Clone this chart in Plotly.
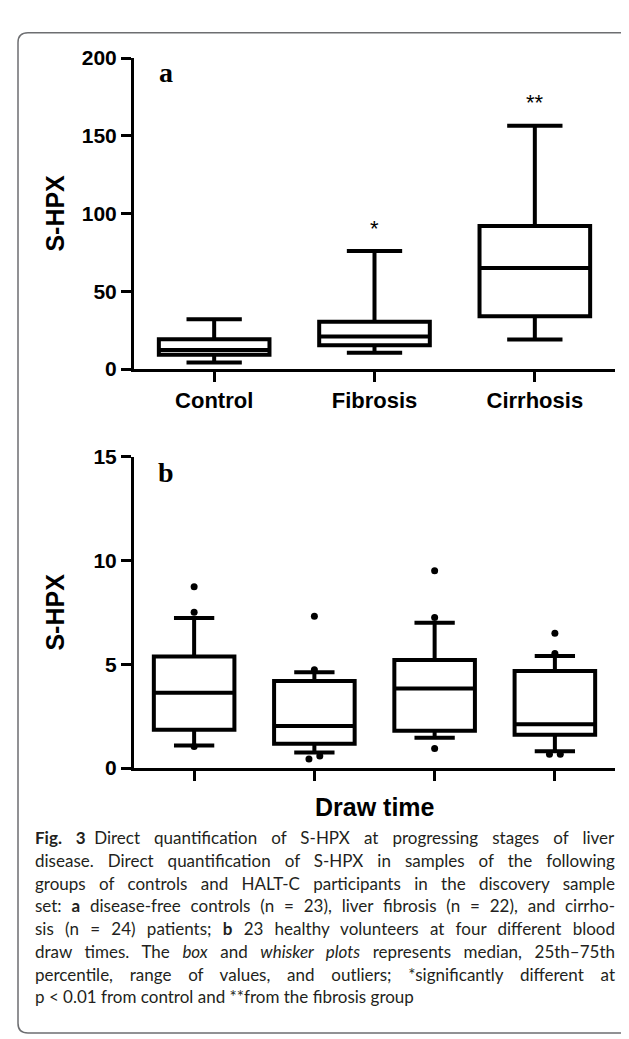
import plotly.graph_objects as go

# ---------------- data ----------------
stage_labels = ["Control", "Fibrosis", "Cirrhosis"]
stage_low = [4.3, 10.5, 19.0]
stage_q1 = [9.2, 15.3, 34.0]
stage_median = [12.3, 21.0, 65.0]
stage_q3 = [19.2, 30.5, 92.0]
stage_high = [32.0, 76.0, 156.5]
stage_marks = ["", "*", "**"]
stage_yticks = [0, 50, 100, 150, 200]

draw_labels = ["", "", "", ""]
draw_low = [1.09, 0.75, 1.46, 0.81]
draw_q1 = [1.85, 1.17, 1.80, 1.61]
draw_median = [3.63, 2.03, 3.83, 2.11]
draw_q3 = [5.37, 4.19, 5.20, 4.68]
draw_high = [7.23, 4.62, 7.00, 5.40]
draw_outliers = [
    [8.73, 7.51, 1.04],
    [7.31, 4.73, 0.44, 0.58],
    [9.50, 7.25, 0.94],
    [6.49, 5.52, 0.67, 0.67],
]
draw_yticks = [0, 5, 10, 15]

caption_lines = [
    "<b>Fig. 3</b>\u2002Direct quantification of S-HPX at progressing stages of liver",
    "disease. Direct quantification of S-HPX in samples of the following",
    "groups of controls and HALT-C participants in the discovery sample",
    "set: <b>a</b> disease-free controls (n = 23), liver fibrosis (n = 22), and cirrho-",
    "sis (n = 24) patients; <b>b</b> 23 healthy volunteers at four different blood",
    "draw times. The <i>box</i> and <i>whisker plots</i> represents median, 25th\u201375th",
    "percentile, range of values, and outliers; *significantly different at",
    "p &lt; 0.01 from control and **from the fibrosis group",
]

# ---------------- layout helpers ----------------
W, H = 629, 1039


def px(x):
    return x / W


def py(y):
    return 1 - y / H


fig = go.Figure()

# panel a boxes
pos_a = list(range(len(stage_labels)))
fig.add_trace(go.Box(
    x=pos_a, q1=stage_q1, median=stage_median, q3=stage_q3,
    lowerfence=stage_low, upperfence=stage_high,
    width=0.69, whiskerwidth=0.5, boxpoints=False,
    line=dict(color="black", width=4), fillcolor="white",
    xaxis="x", yaxis="y", showlegend=False, hoverinfo="skip",
))

# panel b boxes
pos_b = list(range(len(draw_labels)))
fig.add_trace(go.Box(
    x=pos_b, q1=draw_q1, median=draw_median, q3=draw_q3,
    lowerfence=draw_low, upperfence=draw_high,
    width=0.67, whiskerwidth=0.5, boxpoints=False,
    line=dict(color="black", width=4), fillcolor="white",
    xaxis="x2", yaxis="y2", showlegend=False, hoverinfo="skip",
))

# outlier points, dodged when values nearly coincide
ox, oy = [], []
for i, pts in enumerate(draw_outliers):
    pts_sorted = sorted(pts)
    clusters = []
    for v in pts_sorted:
        if clusters and v - clusters[-1][-1] < 0.2:
            clusters[-1].append(v)
        else:
            clusters.append([v])
    for c in clusters:
        n = len(c)
        for k, v in enumerate(c):
            ox.append(i + (k - (n - 1) / 2) * 0.09)
            oy.append(v)
fig.add_trace(go.Scatter(
    x=ox, y=oy, mode="markers",
    marker=dict(color="black", size=7),
    xaxis="x2", yaxis="y2", showlegend=False, hoverinfo="skip",
))

axis_common = dict(
    showline=True, linecolor="black", linewidth=3,
    ticks="outside", ticklen=10, tickwidth=3, tickcolor="black",
    showgrid=False, zeroline=False,
    tickfont=dict(family="Liberation Sans", size=21, color="black", weight="bold"),
)

x_dom = [px(126), px(607)]
fig.update_layout(
    width=W, height=H,
    margin=dict(l=0, r=0, t=0, b=0),
    paper_bgcolor="white", plot_bgcolor="white",
    xaxis=dict(axis_common, domain=x_dom, range=[-0.5, len(stage_labels) - 0.5],
               tickvals=pos_a, ticktext=stage_labels, anchor="y",
               tickfont=dict(family="Liberation Sans", size=22, color="black", weight="bold")),
    yaxis=dict(axis_common, domain=[py(357), py(39)], range=[0, 200],
               tickvals=stage_yticks, anchor="x"),
    xaxis2=dict(axis_common, domain=x_dom, range=[-0.5, len(draw_labels) - 0.5],
                tickvals=pos_b, ticktext=draw_labels, anchor="y2"),
    yaxis2=dict(axis_common, domain=[py(765), py(446.5)], range=[0, 15],
                tickvals=draw_yticks, anchor="x2"),
)

ann = []
title_font = dict(family="Liberation Sans", size=25, color="black", weight="bold")
ann.append(dict(text="S-HPX", x=px(47), y=py(198), xref="paper", yref="paper",
                textangle=-90, showarrow=False, font=title_font,
                xanchor="center", yanchor="middle"))
ann.append(dict(text="S-HPX", x=px(47), y=py(606), xref="paper", yref="paper",
                textangle=-90, showarrow=False, font=title_font,
                xanchor="center", yanchor="middle"))
ann.append(dict(text="Draw time", x=px(367), y=py(805), xref="paper", yref="paper",
                showarrow=False, font=title_font, xanchor="center", yanchor="middle"))

letter_font = dict(family="Liberation Serif", size=28, color="black", weight="bold")
ann.append(dict(text="a", x=px(158), y=py(54), xref="paper", yref="paper",
                showarrow=False, font=letter_font, xanchor="center", yanchor="middle"))
ann.append(dict(text="b", x=px(158), y=py(463), xref="paper", yref="paper",
                showarrow=False, font=letter_font, xanchor="center", yanchor="middle"))

# significance marks above whiskers
for i, m in enumerate(stage_marks):
    if m:
        ann.append(dict(text=m, x=pos_a[i], y=stage_high[i], xref="x", yref="y",
                        showarrow=False, yanchor="bottom", yshift=[0, 8, 9][i],
                        font=dict(family="Liberation Sans", size=22, color="black")))

cap_start = len(ann)
cap_font = dict(family="Lato", size=17, color="#231f20")
for k, line in enumerate(caption_lines):
    ann.append(dict(text=line, x=px(25), y=py(836 + k * 23.3), xref="paper", yref="paper",
                    showarrow=False, font=cap_font, xanchor="left", yanchor="middle",
                    align="left"))
fig.update_layout(annotations=ann)

# rounded frame
x0, y0, x1, y1, r = 10, 13, 626, 1036, 10
path = (f"M {px(x0+r)},{py(y0)} L {px(x1-r)},{py(y0)} Q {px(x1)},{py(y0)} {px(x1)},{py(y0+r)} "
        f"L {px(x1)},{py(y1-r)} Q {px(x1)},{py(y1)} {px(x1-r)},{py(y1)} "
        f"L {px(x0+r)},{py(y1)} Q {px(x0)},{py(y1)} {px(x0)},{py(y1-r)} "
        f"L {px(x0)},{py(y0+r)} Q {px(x0)},{py(y0)} {px(x0+r)},{py(y0)} Z")
fig.add_shape(type="path", path=path, xref="paper", yref="paper",
              line=dict(color="#6d6e71", width=1.5), layer="below")

# justify the caption lines (all but the last) to the text-block width, like the printed caption
justify_idx = list(range(cap_start, cap_start + len(caption_lines) - 1))
post = """
try {
  var gd = document.getElementById('{plot_id}');
  var target = %d;
  %s.forEach(function(i){
    var g = gd.querySelector('.annotation[data-index="' + i + '"]');
    if (!g) return;
    var t = g.querySelector('text.annotation-text');
    if (!t) return;
    var w = t.getBBox().width;
    var n = (t.textContent.match(/ /g) || []).length;
    if (n > 0 && w < target) { t.style.wordSpacing = ((target - w) / n) + 'px'; }
  });
} catch (e) {}
""" % (580, str(justify_idx))

fig.write_html("out.html", post_script=post)
